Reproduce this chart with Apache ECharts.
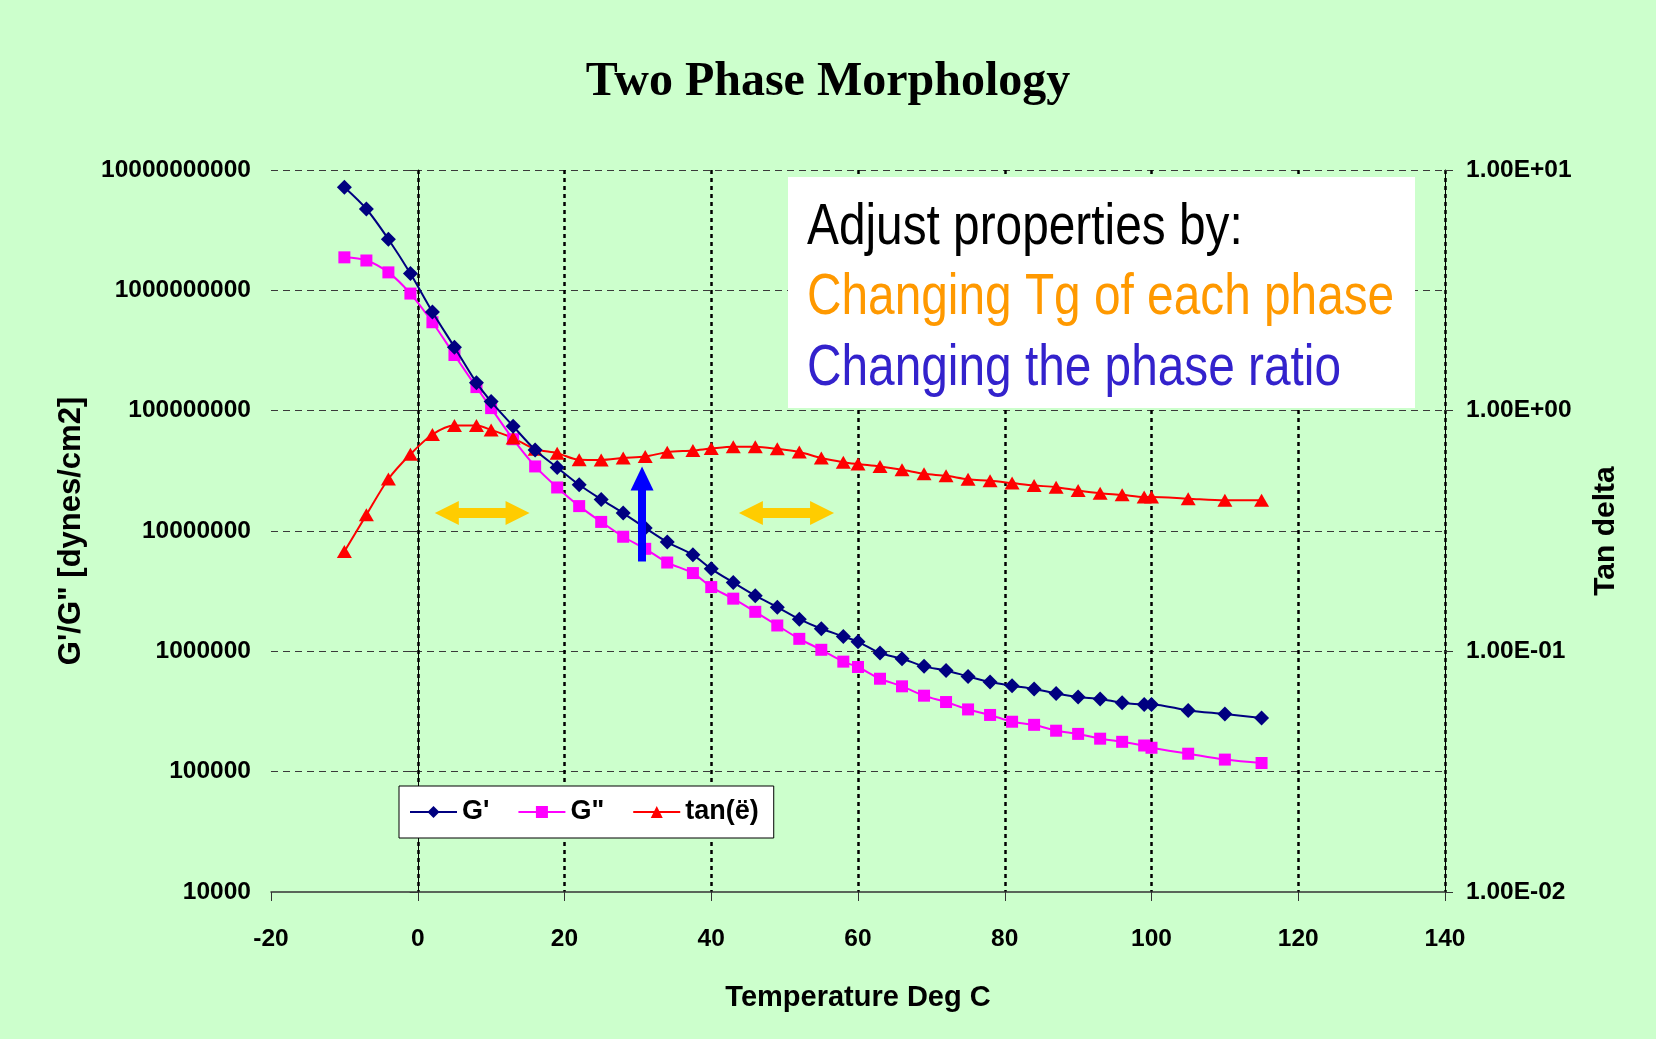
<!DOCTYPE html>
<html>
<head>
<meta charset="utf-8">
<script src="https://cdn.jsdelivr.net/npm/echarts@6/dist/echarts.min.js"></script>
<style>
html,body{margin:0;padding:0;background:#CCFFCC;}
#chart{width:1656px;height:1039px;}
</style>
</head>
<body>
<div id="chart"></div>
<script>
// ---------------- data ----------------
const temperatures = [-10,-7,-4,-1,2,5,8,10,13,16,19,22,25,28,31,34,37.5,40,43,46,49,52,55,58,60,63,66,69,72,75,78,81,84,87,90,93,96,99,100,105,110,115];
const gStorage = [7.18e9,4.74e9,2.66e9,1.38e9,6.62e8,3.37e8,1.71e8,1.19e8,7.43e7,4.72e7,3.37e7,2.42e7,1.83e7,1.41e7,1.06e7,8.09e6,6.34e6,4.85e6,3.73e6,2.90e6,2.33e6,1.85e6,1.54e6,1.33e6,1.20e6,9.68e5,8.69e5,7.50e5,6.94e5,6.19e5,5.56e5,5.18e5,4.86e5,4.47e5,4.17e5,4.02e5,3.74e5,3.62e5,3.62e5,3.23e5,3.01e5,2.79e5];
const gLoss = [1.88e9,1.77e9,1.41e9,9.40e8,5.43e8,2.90e8,1.57e8,1.05e8,5.79e7,3.44e7,2.30e7,1.61e7,1.19e7,8.96e6,7.11e6,5.47e6,4.47e6,3.42e6,2.74e6,2.13e6,1.64e6,1.27e6,1.03e6,8.21e5,7.41e5,5.92e5,5.12e5,4.28e5,3.79e5,3.29e5,2.96e5,2.60e5,2.45e5,2.19e5,2.06e5,1.88e5,1.77e5,1.65e5,1.58e5,1.41e5,1.26e5,1.18e5];
const tanDelta = [0.260,0.369,0.520,0.659,0.796,0.867,0.867,0.832,0.769,0.692,0.666,0.625,0.624,0.636,0.645,0.672,0.683,0.696,0.708,0.708,0.694,0.673,0.636,0.611,0.600,0.586,0.568,0.547,0.536,0.519,0.511,0.500,0.489,0.481,0.466,0.454,0.447,0.438,0.438,0.431,0.424,0.424];

const seriesNames = ["G'", 'G"', 'tan(ë)'];
const leftTickLabels = ['10000','100000','1000000','10000000','100000000','1000000000','10000000000'];
const rightTickLabels = ['1.00E-02','1.00E-01','1.00E+00','1.00E+01'];
const xRange = [-20, 140];
const xStep = 20;

const titleText = 'Two Phase Morphology';
const xAxisTitle = 'Temperature Deg C';
const leftAxisTitle = 'G\'/G" [dynes/cm2]';
const rightAxisTitle = 'Tan delta';
const noteLines = ['Adjust properties by:', 'Changing Tg of each phase', 'Changing the phase ratio'];

// annotation arrows in data coordinates [temperature, modulus]
const tgArrowLeft = [[3.96, 1.41e7], [13.6, 1.41e7]];
const tgArrowRight = [[45.4, 1.41e7], [55.1, 1.41e7]];
const ratioArrow = [[30.57, 5.58e6], [30.57, 2.73e7]];

// ---------------- fonts ----------------
const sans = "'Liberation Sans', Arial, sans-serif";
const noteSize = 58;
const noteScaleX = 0.824; // emulate a narrow face

// ---------------- chart ----------------
const chart = echarts.init(document.getElementById('chart'), null, {renderer: 'canvas'});

const tickLabelStyle = {fontFamily: sans, fontWeight: 'bold', fontSize: 24.5, color: '#000'};

function arrowLine(pts, color, width, headW, headL, both) {
  return [
    {coord: pts[0], symbol: both ? 'triangle' : 'none', symbolSize: [headW, headL],
     lineStyle: {color: color, width: width, type: 'solid'}, itemStyle: {color: color}},
    {coord: pts[1], symbol: 'triangle', symbolSize: [headW, headL],
     lineStyle: {color: color, width: width, type: 'solid'}, itemStyle: {color: color}}
  ];
}

function noteText(i, y, color) {
  return {
    type: 'text', x: 19, y: y, scaleX: noteScaleX, z: 11,
    style: {text: noteLines[i], fill: color, fontFamily: sans, fontSize: noteSize, verticalAlign: 'middle'}
  };
}

const option = {
  backgroundColor: '#CCFFCC',
  animation: false,
  title: {
    text: titleText,
    left: 'center',
    top: 54,
    textStyle: {fontFamily: "'Liberation Serif', 'Times New Roman', serif", fontWeight: 'bold', fontSize: 48, color: '#000'}
  },
  legend: {
    data: seriesNames,
    left: 399,
    top: 786,
    orient: 'horizontal',
    backgroundColor: '#fff',
    borderColor: '#000',
    borderWidth: 1,
    borderRadius: 0,
    padding: [11, 15, 11, 10],
    itemGap: 28,
    itemWidth: 47,
    itemHeight: 15,
    textStyle: {fontFamily: sans, fontWeight: 'bold', fontSize: 27, color: '#000', lineHeight: 30}
  },
  grid: {left: 271, right: 211, top: 170, bottom: 147, containLabel: false},
  xAxis: {
    type: 'value',
    min: xRange[0], max: xRange[1], interval: xStep,
    name: xAxisTitle,
    nameLocation: 'middle',
    nameGap: 91,
    nameTextStyle: {fontFamily: sans, fontWeight: 'bold', fontSize: 29, color: '#000'},
    axisLine: {show: true, onZero: false, lineStyle: {color: '#333', width: 1.5}},
    axisTick: {show: true, length: 9, lineStyle: {color: '#333', width: 1}},
    axisLabel: Object.assign({margin: 35}, tickLabelStyle),
    splitLine: {show: true, showMinLine: false, showMaxLine: true, lineStyle: {color: '#000', width: 2.5, type: [4, 4]}}
  },
  yAxis: [
    {
      type: 'log', logBase: 10, min: 1e4, max: 1e10,
      position: 'left',
      name: leftAxisTitle,
      nameLocation: 'middle',
      nameGap: 184,
      nameTextStyle: {fontFamily: sans, fontWeight: 'bold', fontSize: 31, color: '#000'},
      axisLine: {show: true, lineStyle: {color: '#000', width: 1}},
      axisTick: {show: true, length: 8, lineStyle: {color: '#333'}},
      axisLabel: Object.assign({
        margin: 20,
        formatter: function (v) { return leftTickLabels[Math.round(Math.log10(v)) - 4]; }
      }, tickLabelStyle),
      splitLine: {show: true, showMinLine: false, lineStyle: {color: '#3a3a3a', width: 1.2, type: [7, 5]}},
      minorTick: {show: false}
    },
    {
      type: 'log', logBase: 10, min: 0.01, max: 10,
      position: 'right',
      name: rightAxisTitle,
      nameLocation: 'middle',
      nameGap: 146,
      nameTextStyle: {fontFamily: sans, fontWeight: 'bold', fontSize: 30, color: '#000'},
      axisLine: {show: true, lineStyle: {color: '#000', width: 1}},
      axisTick: {show: true, length: 8, lineStyle: {color: '#333'}},
      axisLabel: Object.assign({
        margin: 21,
        formatter: function (v) { return rightTickLabels[Math.round(Math.log10(v)) + 2]; }
      }, tickLabelStyle),
      splitLine: {show: false}
    }
  ],
  series: [
    {
      name: seriesNames[0], type: 'line', yAxisIndex: 0,
      data: temperatures.map((t, i) => [t, gStorage[i]]),
      symbol: 'diamond', symbolSize: 15, smooth: 0.3,
      lineStyle: {color: '#000080', width: 2}, itemStyle: {color: '#000080'},
      z: 3,
      markLine: {
        silent: true, animation: false, z: 5,
        label: {show: false},
        emphasis: {disabled: true},
        data: [
          arrowLine(tgArrowLeft, '#FFCC00', 10, 24, 24, true),
          arrowLine(tgArrowRight, '#FFCC00', 10, 24, 24, true),
          arrowLine(ratioArrow, '#0000FF', 8, 23, 24, false)
        ]
      }
    },
    {
      name: seriesNames[1], type: 'line', yAxisIndex: 0,
      data: temperatures.map((t, i) => [t, gLoss[i]]),
      symbol: 'rect', symbolSize: 12, smooth: 0.3,
      lineStyle: {color: '#FF00FF', width: 2}, itemStyle: {color: '#FF00FF'},
      z: 2
    },
    {
      name: seriesNames[2], type: 'line', yAxisIndex: 1,
      data: temperatures.map((t, i) => [t, tanDelta[i]]),
      symbol: 'triangle', symbolSize: [15, 13], smooth: 0.3,
      lineStyle: {color: '#FF0000', width: 2}, itemStyle: {color: '#FF0000'},
      z: 2
    }
  ],
  graphic: [
    {
      type: 'group', left: 788, top: 177, z: 10,
      children: [
        {type: 'rect', z: 10, shape: {x: 0, y: 0, width: 627, height: 231}, style: {fill: '#ffffff'}},
        noteText(0, 51, '#000000'),
        noteText(1, 121, '#FF9900'),
        noteText(2, 192, '#3322CC')
      ]
    }
  ]
};
chart.setOption(option);
</script>
</body>
</html>
